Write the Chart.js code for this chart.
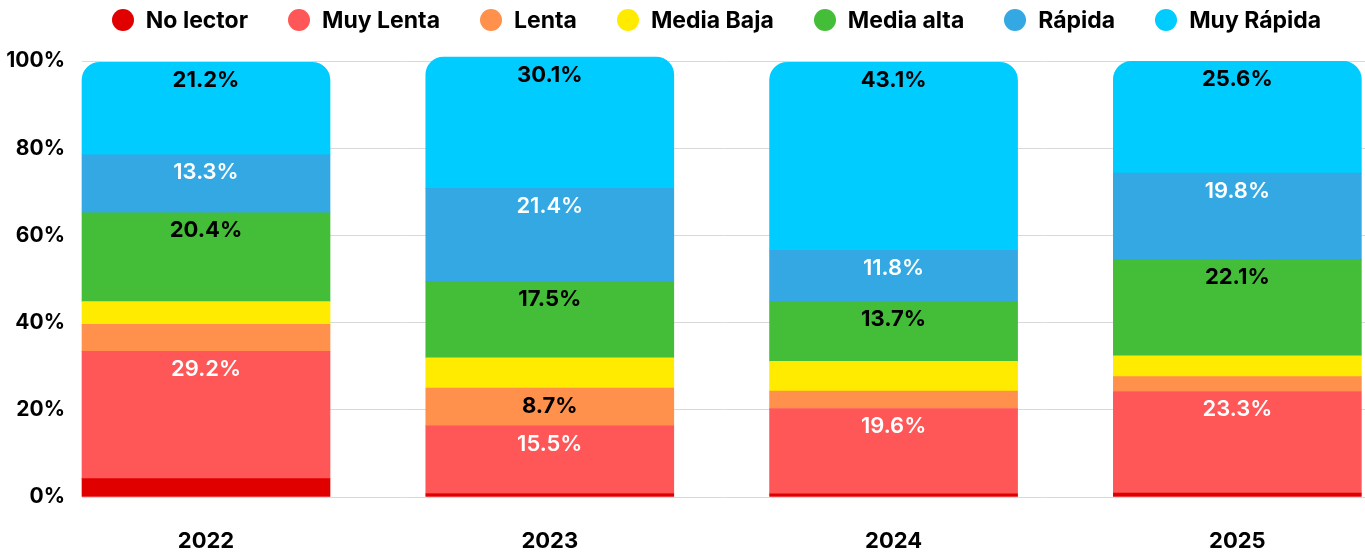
<!DOCTYPE html>
<html>
<head>
<meta charset="utf-8">
<script src="https://cdn.jsdelivr.net/npm/chart.js@4.4.1/dist/chart.umd.min.js"></script>
<style>
  body { margin: 0; background: #fff; font-family: Inter, sans-serif; }
  #wrap { position: relative; width: 1365px; height: 557px; }
  #chart { display: block; }
  #legend { position: absolute; top: 0; left: 75px; width: 1283px; height: 40px;
            display: flex; justify-content: center; align-items: center; }
  .item { display: flex; align-items: center; margin-right: 40px;
          font-weight: 700; font-size: 23px; color: #000; white-space: nowrap; }
  .item:last-child { margin-right: 0; }
  .dot { width: 22px; height: 22px; border-radius: 50%; margin-right: 12px; }
</style>
</head>
<body>
<div id="wrap">
  <div id="legend"></div>
  <canvas id="chart" width="1365" height="557"></canvas>
</div>
<script>
// años y porcentajes por tipo de lector
const years = ['2022', '2023', '2024', '2025'];
const noLector   = [4.2, 0.8, 0.7, 0.9];
const muyLenta   = [29.2, 15.5, 19.6, 23.3];
const lenta      = [6.2, 8.7, 4.0, 3.4];
const mediaBaja  = [5.2, 6.9, 6.8, 4.8];
const mediaAlta  = [20.4, 17.5, 13.7, 22.1];
const rapida     = [13.3, 21.4, 11.8, 19.8];
const muyRapida  = [21.2, 30.1, 43.1, 25.6];
const yTicks = [0, 20, 40, 60, 80, 100];

const series = [
  { label: 'No lector',  data: noLector,  color: '#E00000', text: '#fff' },
  { label: 'Muy Lenta',  data: muyLenta,  color: '#FF5757', text: '#fff' },
  { label: 'Lenta',      data: lenta,     color: '#FF914D', text: '#000' },
  { label: 'Media Baja', data: mediaBaja, color: '#FFEB00', text: '#000' },
  { label: 'Media alta', data: mediaAlta, color: '#44BD39', text: '#000' },
  { label: 'Rápida',     data: rapida,    color: '#33A8E2', text: '#fff' },
  { label: 'Muy Rápida', data: muyRapida, color: '#00CCFF', text: '#000' }
];

const datasets = series.map((s, i) => ({
  label: s.label,
  data: s.data,
  backgroundColor: s.color,
  labelColor: s.text,
  borderWidth: 0,
  borderRadius: i === series.length - 1 ? { topLeft: 18, topRight: 18 } : 0,
  borderSkipped: false,
  barThickness: 248,
  clip: false
}));

// etiquetas dentro de las barras
const valueLabels = {
  id: 'valueLabels',
  afterDatasetsDraw(chart) {
    const ctx = chart.ctx;
    ctx.save();
    ctx.textAlign = 'center';
    ctx.textBaseline = 'middle';
    chart.data.datasets.forEach((ds, di) => {
      const meta = chart.getDatasetMeta(di);
      meta.data.forEach((bar, i) => {
        const v = ds.data[i];
        if (v < 8) return;
        ctx.fillStyle = ds.labelColor;
        ctx.font = (ds.labelColor === '#fff' ? '600' : '700') + ' 22px Inter';
        ctx.fillText(v.toFixed(1) + '%', bar.x, bar.y + 18);
      });
    });
    ctx.restore();
  }
};

const chart = new Chart(document.getElementById('chart'), {
  type: 'bar',
  data: { labels: years, datasets: datasets },
  plugins: [valueLabels],
  options: {
    responsive: false,
    animation: false,
    layout: { padding: { top: 61, bottom: 3, left: 0, right: 0 } },
    plugins: { legend: { display: false }, tooltip: { enabled: false } },
    scales: {
      x: {
        stacked: true,
        grid: { display: false, drawTicks: false },
        border: { display: false },
        ticks: { color: '#000', padding: 31, font: { family: 'Inter', size: 22, weight: '700' } },
        afterFit(scale) { scale.height = 57; },
        afterBuildTicks(scale) {
          // las barras no van centradas en su categoría: se ajusta el rango
          scale._startValue = -0.3607;
          scale._valueRange = 3.732;
        }
      },
      y: {
        stacked: true,
        min: 0,
        max: 100,
        afterBuildTicks(scale) {
          scale.ticks = yTicks.map(v => ({ value: v }));
        },
        afterFit(scale) { scale.width = 82; },
        grid: { color: '#D9D9D9', drawTicks: false },
        border: { display: false },
        ticks: {
          color: '#000',
          padding: 17,
          font: { family: 'Inter', size: 21, weight: '700' },
          callback: v => v + '%'
        }
      }
    }
  }
});

// leyenda en HTML
const legend = document.getElementById('legend');
chart.data.datasets.forEach(ds => {
  const item = document.createElement('div');
  item.className = 'item';
  const dot = document.createElement('span');
  dot.className = 'dot';
  dot.style.background = ds.backgroundColor;
  item.appendChild(dot);
  item.appendChild(document.createTextNode(ds.label));
  legend.appendChild(item);
});
</script>
</body>
</html>
